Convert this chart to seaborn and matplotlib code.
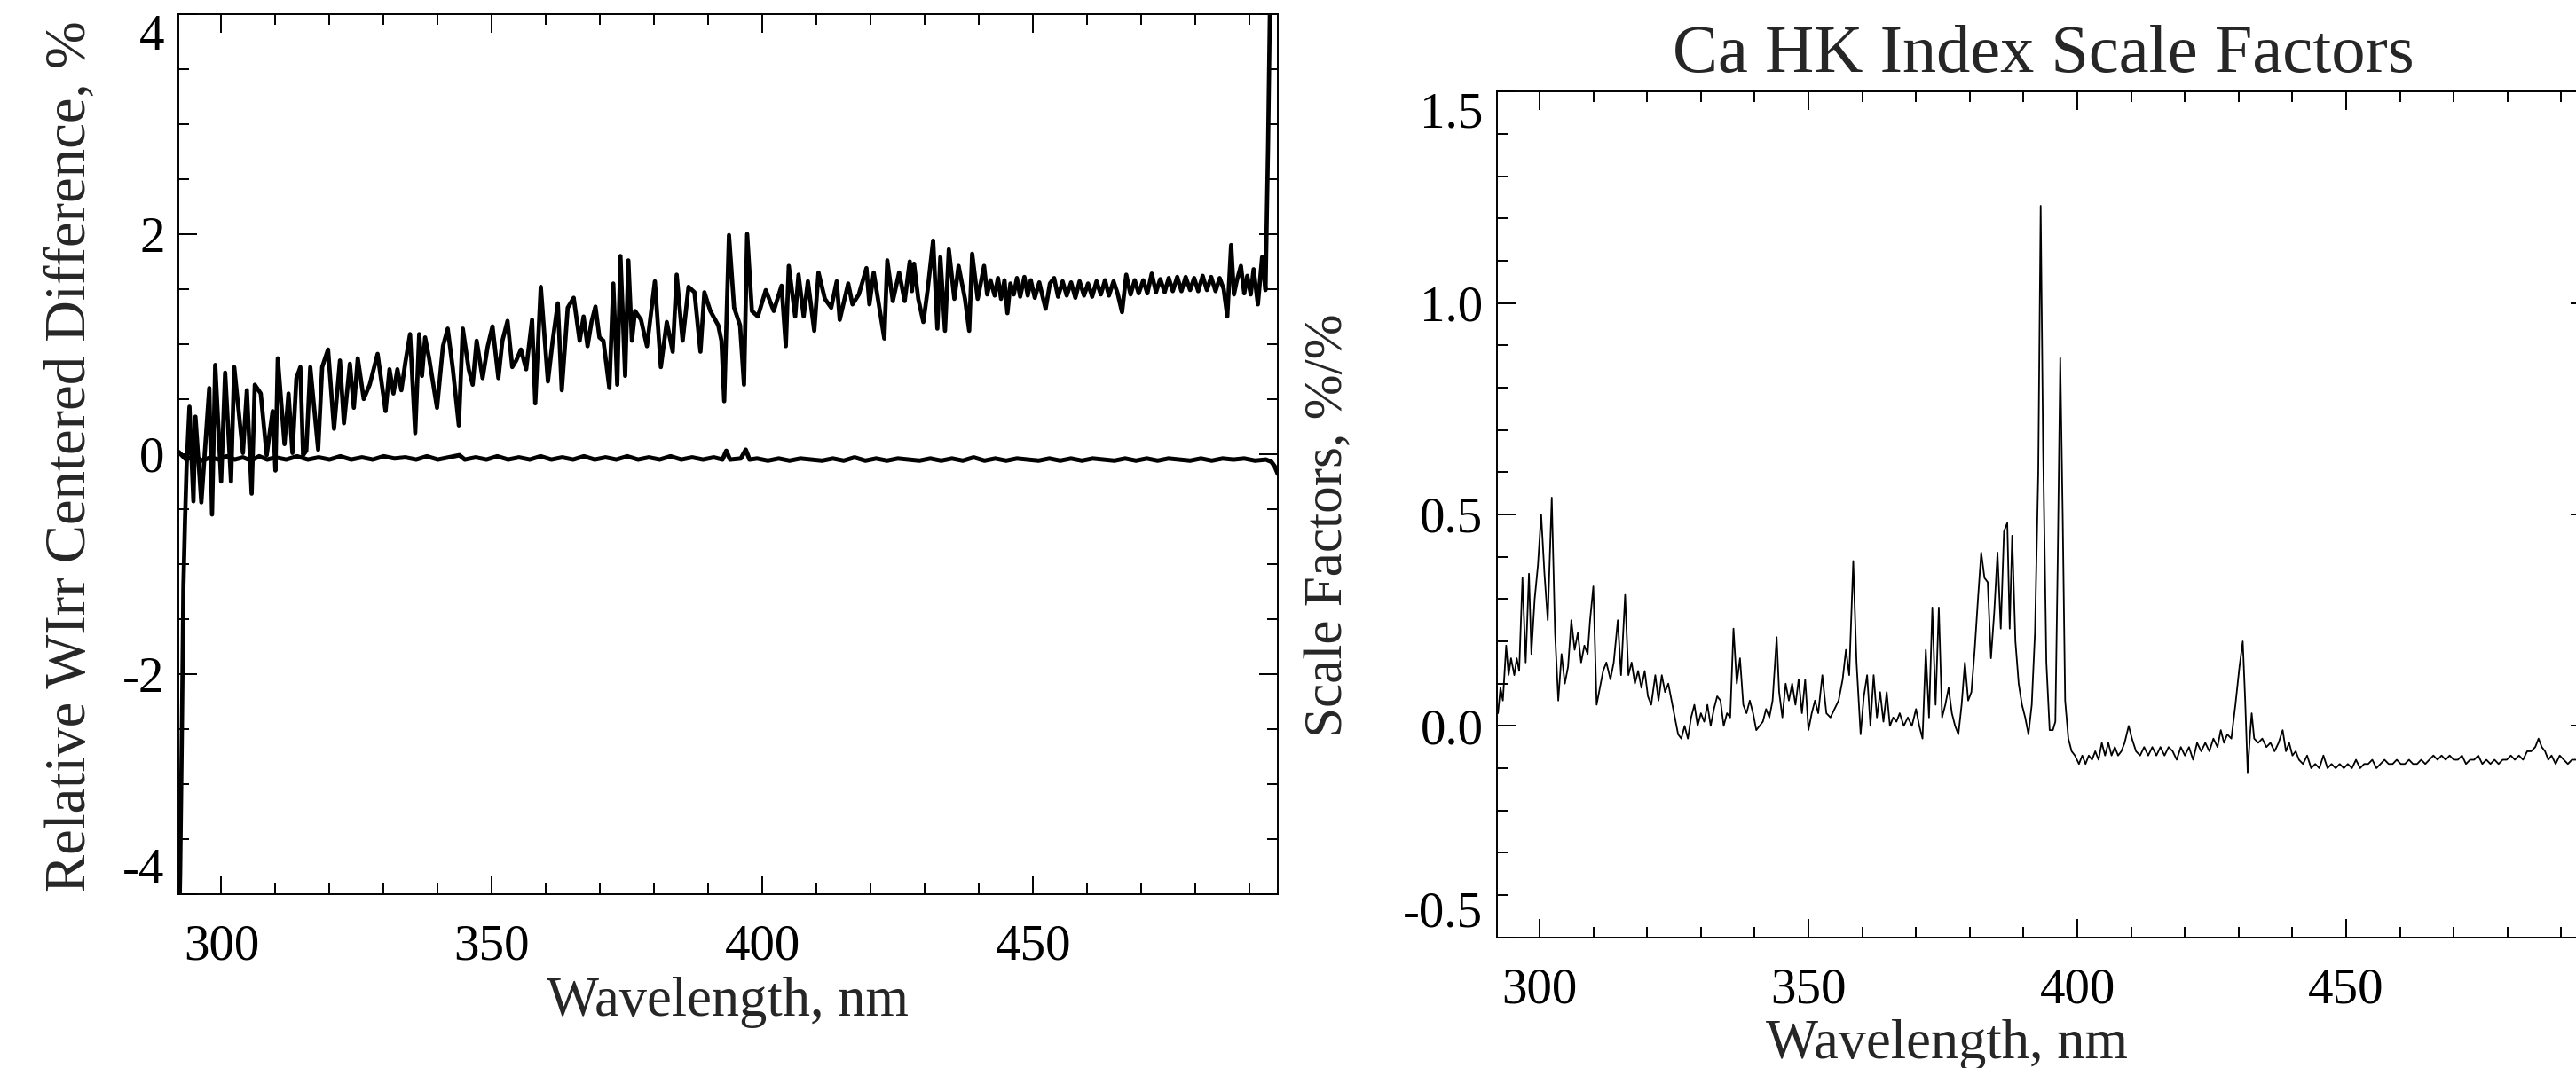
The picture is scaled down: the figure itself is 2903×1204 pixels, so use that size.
import matplotlib
matplotlib.use("Agg")
import matplotlib.pyplot as plt
from matplotlib.ticker import MultipleLocator, FormatStrFormatter
import seaborn as sns

# ---- left panel: relative WIrr centered difference (upper, trending curve)
wirr_wl = [292.1, 292.4, 292.7, 293.0, 293.3, 293.6, 293.9, 294.12, 294.85, 295.22,
           296.31, 297.78, 298.29, 298.88, 299.97, 300.71, 301.80, 302.39, 304.0, 304.73,
           305.61, 306.19, 307.29, 308.39, 309.49, 310.0, 310.44, 311.68, 312.42, 313.15,
           313.88, 314.61, 315.12, 315.71, 316.44, 317.90, 318.64, 319.73, 320.83, 321.93,
           322.66, 323.76, 324.49, 325.22, 326.32, 327.42, 328.88, 330.35, 331.08, 331.81,
           332.54, 333.27, 334.0, 334.88, 335.83, 336.57, 337.08, 337.66, 338.40, 339.86,
           340.96, 341.84, 342.79, 343.89, 344.62, 345.72, 346.45, 347.18, 348.28, 349.23,
           350.11, 351.20, 351.94, 352.89, 353.76, 354.50, 355.37, 356.33, 357.42, 358.01,
           359.03, 360.35, 361.23, 362.18, 362.91, 364.01, 365.11, 366.21, 366.94, 367.67,
           368.40, 369.13, 369.87, 370.60, 371.70, 372.43, 373.16, 373.75, 374.62, 375.21,
           375.87, 376.45, 377.55, 378.65, 380.11, 381.21, 382.31, 383.41, 384.14, 385.24,
           386.33, 387.43, 388.53, 389.26, 390.36, 391.82, 392.41, 392.92, 393.80, 394.75,
           395.85, 396.58, 397.16, 398.04, 399.14, 400.60, 402.07, 403.52, 404.30, 404.85,
           406.03, 406.65, 407.60, 408.38, 409.56, 410.34, 411.52, 412.69, 413.71, 414.26,
           415.83, 416.62, 417.79, 419.20, 419.75, 420.54, 421.32, 422.50, 423.05, 424.07,
           425.24, 426.26, 427.20, 427.60, 427.99, 428.77, 429.71, 430.50, 431.52, 432.30,
           432.85, 433.71, 434.42, 435.44, 436.22, 437.40, 438.18, 438.73, 439.75, 440.93,
           441.5, 442.11, 442.89, 443.5, 444.07, 444.7, 445.24, 445.8, 446.42, 447.0,
           447.60, 448.38, 449.0, 449.56, 450.3, 451.13, 451.7, 452.30, 453.1, 453.87,
           454.6, 455.44, 456.2, 457.01, 457.8, 458.58, 459.4, 460.14, 460.9, 461.71,
           462.5, 463.28, 464.0, 464.85, 465.6, 466.42, 467.20, 468.0, 468.77, 469.5,
           470.34, 471.10, 471.91, 472.7, 473.48, 474.3, 475.05, 475.8, 476.62, 477.4,
           478.18, 479.0, 479.75, 480.5, 481.32, 482.1, 482.89, 483.7, 484.46, 485.2,
           485.87, 486.58, 487.1, 487.60, 488.38, 489.0, 489.56, 490.2, 490.73, 491.52,
           492.30, 492.93, 493.40, 493.90]
wirr_diff = [-4.6, -3.8, -2.6, -1.2, -0.6, -0.1, 0.2, 0.43, -0.43, 0.34,
             -0.44, 0.60, -0.55, 0.81, -0.25, 0.74, -0.25, 0.79, 0.01, 0.58,
             -0.36, 0.63, 0.55, -0.01, 0.39, -0.15, 0.87, 0.09, 0.55, 0.01,
             0.69, 0.79, -0.01, 0.03, 0.79, 0.04, 0.79, 0.95, 0.23, 0.85,
             0.28, 0.82, 0.42, 0.87, 0.50, 0.63, 0.91, 0.39, 0.77, 0.55,
             0.77, 0.58, 0.83, 1.09, 0.19, 1.09, 0.71, 1.06, 0.87, 0.42,
             0.98, 1.14, 0.77, 0.26, 1.14, 0.77, 0.63, 1.03, 0.69, 0.98,
             1.16, 0.69, 1.03, 1.21, 0.79, 0.85, 0.95, 0.77, 1.22, 0.46,
             1.52, 0.66, 1.03, 1.37, 0.58, 1.33, 1.42, 1.03, 1.25, 0.98,
             1.20, 1.34, 1.06, 1.03, 0.60, 1.55, 0.63, 1.80, 0.71, 1.76,
             1.03, 1.30, 1.22, 0.98, 1.57, 0.79, 1.20, 0.93, 1.63, 1.03,
             1.52, 1.47, 0.93, 1.47, 1.30, 1.17, 1.03, 0.48, 1.99, 1.33,
             1.17, 0.63, 2.00, 1.30, 1.25, 1.49, 1.30, 1.53, 0.98, 1.71,
             1.25, 1.63, 1.25, 1.57, 1.12, 1.65, 1.41, 1.33, 1.57, 1.22,
             1.55, 1.36, 1.45, 1.69, 1.36, 1.65, 1.41, 1.05, 1.76, 1.39,
             1.65, 1.39, 1.75, 1.48, 1.73, 1.41, 1.20, 1.49, 1.94, 1.14,
             1.79, 1.12, 1.86, 1.41, 1.71, 1.41, 1.12, 1.82, 1.41, 1.71,
             1.45, 1.58, 1.44, 1.60, 1.41, 1.58, 1.28, 1.55, 1.45, 1.60,
             1.43, 1.61, 1.44, 1.58, 1.42, 1.56, 1.44, 1.32, 1.55, 1.60,
             1.43, 1.57, 1.44, 1.56, 1.42, 1.57, 1.44, 1.55, 1.43, 1.57,
             1.45, 1.58, 1.44, 1.57, 1.46, 1.29, 1.63, 1.45, 1.58, 1.46,
             1.58, 1.46, 1.64, 1.47, 1.59, 1.47, 1.60, 1.48, 1.61, 1.48,
             1.61, 1.49, 1.60, 1.48, 1.62, 1.49, 1.61, 1.48, 1.60, 1.50,
             1.25, 1.90, 1.45, 1.57, 1.71, 1.46, 1.62, 1.45, 1.68, 1.36,
             1.79, 1.49, 2.80, 4.60]

# ---- left panel: near-zero curve
base_wl = [292.1, 293.5, 295.0, 296.5, 298.0, 299.5, 301.0, 302.5, 304.0, 305.5,
           307.0, 308.5, 310.0, 312.0, 314.0, 316.0, 318.0, 320.0, 322.0, 324.0,
           326.0, 328.0, 330.0, 332.0, 334.0, 336.0, 338.0, 340.0, 342.0, 344.0,
           345.0, 347.0, 349.0, 351.0, 353.0, 355.0, 357.0, 359.0, 361.0, 363.0,
           365.0, 367.0, 369.0, 371.0, 373.0, 375.0, 377.0, 379.0, 381.0, 383.0,
           385.0, 387.0, 389.0, 391.0, 392.6, 393.3, 394.0, 396.0, 396.9, 397.6,
           399.0, 401.0, 403.0, 405.0, 407.0, 409.0, 411.0, 413.0, 415.0, 417.0,
           419.0, 421.0, 423.0, 425.0, 427.0, 429.0, 431.0, 433.0, 435.0, 437.0,
           439.0, 441.0, 443.0, 445.0, 447.0, 449.0, 451.0, 453.0, 455.0, 457.0,
           459.0, 461.0, 463.0, 465.0, 467.0, 469.0, 471.0, 473.0, 475.0, 477.0,
           479.0, 481.0, 483.0, 485.0, 487.0, 489.0, 491.0, 493.0, 494.0, 494.6,
           495.2]
base_diff = [0.02, -0.05, -0.02, -0.06, -0.03, -0.05, -0.02, -0.05, -0.03, -0.06,
             -0.02, -0.05, -0.03, -0.05, -0.02, -0.05, -0.03, -0.05, -0.02, -0.05,
             -0.03, -0.05, -0.02, -0.04, -0.03, -0.05, -0.02, -0.05, -0.03, -0.01,
             -0.05, -0.03, -0.05, -0.02, -0.05, -0.03, -0.05, -0.02, -0.05, -0.03,
             -0.05, -0.02, -0.05, -0.03, -0.05, -0.02, -0.05, -0.03, -0.05, -0.02,
             -0.05, -0.03, -0.05, -0.03, -0.05, 0.03, -0.05, -0.04, 0.04, -0.05,
             -0.04, -0.06, -0.04, -0.06, -0.04, -0.05, -0.06, -0.04, -0.06, -0.03,
             -0.06, -0.04, -0.06, -0.04, -0.05, -0.06, -0.04, -0.06, -0.04, -0.06,
             -0.03, -0.06, -0.04, -0.06, -0.04, -0.05, -0.06, -0.04, -0.06, -0.04,
             -0.06, -0.04, -0.05, -0.06, -0.04, -0.06, -0.04, -0.06, -0.04, -0.05,
             -0.06, -0.04, -0.06, -0.04, -0.05, -0.04, -0.06, -0.05, -0.07, -0.11,
             -0.18]

# ---- right panel: Ca HK index scale factors
hk_wl = [292.27, 292.73, 293.18, 293.79, 294.24, 294.70, 295.30, 295.76, 296.21, 296.82,
         297.42, 298.03, 298.48, 299.09, 299.70, 300.30, 300.91, 301.52, 302.27, 302.88,
         303.48, 304.09, 304.70, 305.30, 305.91, 306.52, 307.12, 307.73, 308.33, 308.94,
         309.39, 310.00, 310.61, 311.21, 311.82, 312.42, 313.18, 313.79, 314.55, 315.15,
         315.91, 316.52, 317.12, 317.73, 318.33, 318.94, 319.55, 320.15, 320.76, 321.52,
         322.12, 322.73, 323.33, 323.94, 324.55, 325.15, 325.76, 326.36, 326.97, 327.58,
         328.18, 328.79, 329.39, 330.00, 330.61, 331.21, 331.82, 332.42, 333.03, 333.64,
         334.24, 334.85, 335.45, 336.06, 336.67, 337.27, 337.88, 338.48, 339.09, 339.70,
         340.30, 340.91, 341.52, 342.12, 342.73, 343.33, 344.09, 344.55, 345.15, 345.76,
         346.36, 346.97, 347.58, 348.18, 348.79, 349.39, 350.00, 350.61, 351.21, 351.82,
         352.58, 353.33, 354.09, 354.85, 355.61, 356.36, 356.97, 357.58, 358.33, 358.94,
         359.70, 360.30, 360.91, 361.52, 362.12, 362.73, 363.33, 363.94, 364.55, 365.15,
         365.76, 366.36, 366.97, 367.73, 368.48, 369.24, 370.00, 370.61, 371.21, 371.82,
         372.42, 373.03, 373.64, 374.24, 374.85, 375.45, 376.06, 376.67, 377.27, 377.88,
         378.48, 379.09, 379.70, 380.30, 380.91, 381.52, 382.12, 382.73, 383.33, 383.94,
         384.55, 385.15, 385.76, 386.36, 386.97, 387.42, 387.88, 388.48, 389.09, 389.70,
         390.30, 390.91, 391.52, 392.12, 392.73, 393.18, 393.64, 394.24, 394.85, 395.45,
         395.91, 396.36, 396.82, 397.27, 397.73, 398.33, 398.94, 399.55, 400.30, 400.91,
         401.52, 402.12, 402.73, 403.33, 403.94, 404.55, 405.15, 405.76, 406.36, 406.97,
         407.58, 408.18, 408.79, 409.55, 410.15, 410.91, 411.67, 412.42, 413.18, 413.94,
         414.70, 415.45, 416.21, 416.97, 417.73, 418.48, 419.24, 420.00, 420.76, 421.52,
         422.27, 423.03, 423.79, 424.55, 425.30, 426.06, 426.67, 427.27, 427.88, 428.64,
         429.39, 430.15, 430.76, 431.21, 431.67, 432.12, 432.42, 432.88, 433.64, 434.39,
         435.15, 435.91, 436.67, 437.42, 438.18, 438.79, 439.39, 440.00, 440.61, 441.21,
         441.97, 442.73, 443.48, 444.24, 445.00, 445.76, 446.52, 447.27, 448.03, 448.79,
         449.55, 450.30, 451.06, 451.82, 452.58, 453.33, 454.09, 454.85, 455.61, 456.36,
         457.12, 457.88, 458.64, 459.39, 460.15, 460.91, 461.67, 462.42, 463.18, 463.94,
         464.70, 465.45, 466.21, 466.97, 467.73, 468.48, 469.24, 470.00, 470.76, 471.52,
         472.27, 473.03, 473.79, 474.55, 475.30, 476.06, 476.82, 477.58, 478.33, 479.09,
         479.85, 480.61, 481.36, 482.12, 482.88, 483.64, 484.39, 485.15, 485.76, 486.36,
         486.97, 487.58, 488.18, 488.94, 489.70, 490.45, 491.21, 491.97, 492.42, 493.50,
         495.00]
hk_scale = [0.03, 0.09, 0.06, 0.19, 0.12, 0.16, 0.12, 0.16, 0.13, 0.35,
            0.15, 0.36, 0.17, 0.30, 0.38, 0.50, 0.36, 0.25, 0.54, 0.22,
            0.06, 0.17, 0.10, 0.14, 0.25, 0.18, 0.22, 0.15, 0.19, 0.17,
            0.25, 0.33, 0.05, 0.09, 0.13, 0.15, 0.11, 0.15, 0.25, 0.12,
            0.31, 0.12, 0.15, 0.10, 0.13, 0.09, 0.13, 0.07, 0.05, 0.12,
            0.06, 0.12, 0.08, 0.10, 0.06, 0.02, -0.02, -0.03, 0.00, -0.03,
            0.02, 0.05, 0.00, 0.03, 0.01, 0.05, 0.00, 0.04, 0.07, 0.06,
            0.00, 0.03, 0.02, 0.23, 0.10, 0.16, 0.05, 0.03, 0.06, 0.03,
            -0.01, 0.00, 0.01, 0.04, 0.02, 0.06, 0.21, 0.08, 0.02, 0.10,
            0.06, 0.10, 0.05, 0.11, 0.03, 0.11, -0.01, 0.03, 0.06, 0.03,
            0.12, 0.03, 0.02, 0.04, 0.06, 0.11, 0.18, 0.12, 0.39, 0.15,
            -0.02, 0.07, 0.12, 0.00, 0.12, 0.02, 0.08, 0.01, 0.08, 0.00,
            0.02, 0.01, 0.03, 0.00, 0.02, 0.00, 0.04, 0.00, -0.03, 0.18,
            0.02, 0.28, 0.05, 0.28, 0.02, 0.05, 0.09, 0.03, 0.00, -0.02,
            0.05, 0.15, 0.06, 0.08, 0.18, 0.30, 0.41, 0.35, 0.34, 0.16,
            0.27, 0.41, 0.23, 0.46, 0.48, 0.23, 0.45, 0.20, 0.10, 0.05,
            0.02, -0.02, 0.05, 0.22, 0.60, 1.23, 0.65, 0.15, -0.01, -0.01,
            0.01, 0.40, 0.87, 0.50, 0.06, -0.03, -0.06, -0.07, -0.09, -0.07,
            -0.09, -0.07, -0.08, -0.06, -0.08, -0.04, -0.07, -0.04, -0.07, -0.05,
            -0.07, -0.06, -0.04, 0.00, -0.03, -0.06, -0.07, -0.05, -0.07, -0.05,
            -0.07, -0.05, -0.07, -0.05, -0.06, -0.08, -0.05, -0.07, -0.05, -0.08,
            -0.04, -0.06, -0.04, -0.06, -0.03, -0.05, -0.01, -0.04, -0.02, -0.03,
            0.05, 0.14, 0.20, 0.06, -0.11, -0.02, 0.03, -0.03, -0.04, -0.03,
            -0.05, -0.04, -0.06, -0.04, -0.01, -0.06, -0.04, -0.07, -0.06, -0.08,
            -0.09, -0.07, -0.10, -0.09, -0.10, -0.07, -0.10, -0.09, -0.10, -0.09,
            -0.10, -0.09, -0.10, -0.08, -0.10, -0.09, -0.09, -0.08, -0.10, -0.09,
            -0.08, -0.09, -0.09, -0.08, -0.09, -0.09, -0.08, -0.09, -0.09, -0.08,
            -0.09, -0.08, -0.07, -0.08, -0.07, -0.08, -0.07, -0.08, -0.08, -0.07,
            -0.09, -0.08, -0.08, -0.07, -0.09, -0.08, -0.09, -0.08, -0.09, -0.08,
            -0.08, -0.07, -0.08, -0.07, -0.08, -0.06, -0.06, -0.05, -0.03, -0.05,
            -0.06, -0.08, -0.07, -0.09, -0.07, -0.08, -0.09, -0.08, -0.08, -0.08,
            -0.07]

sns.set_style("ticks")
plt.rcParams["font.family"] = ["Liberation Serif", "DejaVu Serif"]
plt.rcParams["axes.unicode_minus"] = False

W, H = 2903, 1204
fig = plt.figure(figsize=(W / 100, H / 100), dpi=100)
ax1 = fig.add_axes([201 / W, 1 - 1008 / H, 1239 / W, (1008 - 15.7) / H])
ax2 = fig.add_axes([1686.7 / W, 1 - 1056.7 / H, (2918 - 1686.7) / W, (1056.7 - 103.3) / H])

sns.lineplot(x=base_wl, y=base_diff, ax=ax1, color="black", linewidth=3.6,
             estimator=None, sort=False)
sns.lineplot(x=wirr_wl, y=wirr_diff, ax=ax1, color="black", linewidth=3.4,
             estimator=None, sort=False)
sns.lineplot(x=hk_wl, y=hk_scale, ax=ax2, color="black", linewidth=1.3,
             estimator=None, sort=False)

ax1.set_xlim(292.07, 495.2)
ax1.set_ylim(-4, 4)
ax1.set_yticks([-4, -2, 0, 2, 4])
ax1.yaxis.set_minor_locator(MultipleLocator(0.5))

ax2.set_xlim(292.03, 495.2)
ax2.set_ylim(-0.5, 1.5)
ax2.set_yticks([-0.5, 0.0, 0.5, 1.0, 1.5])
ax2.yaxis.set_major_formatter(FormatStrFormatter("%.1f"))
ax2.yaxis.set_minor_locator(MultipleLocator(0.1))

for ax in (ax1, ax2):
    ax.set_xticks([300, 350, 400, 450])
    ax.xaxis.set_minor_locator(MultipleLocator(10))
    ax.tick_params(which="both", direction="in", top=True, right=True,
                   width=1.4, color="black", labelcolor="black")
    ax.tick_params(which="major", length=15)
    ax.tick_params(which="minor", length=8.5)
    ax.tick_params(axis="x", which="major", pad=24, labelsize=41)
    ax.tick_params(axis="y", which="major", pad=11, labelsize=41)
    for sp in ax.spines.values():
        sp.set_linewidth(1.4)
        sp.set_color("black")
    labs = ax.get_yticklabels()
    labs[0].set_va("bottom")
    labs[-1].set_va("top")

ax1.set_xlabel("Wavelength, nm", fontsize=45)
ax1.xaxis.set_label_coords(0.5, -0.094)
ax1.set_ylabel("Relative WIrr Centered Difference, %", fontsize=46.5)
ax1.yaxis.label.set_va("center")
ax1.yaxis.set_label_coords(-0.097, 0.497)

ax2.set_title("Ca HK Index Scale Factors", fontsize=55, pad=16)
ax2.set_xlabel("Wavelength, nm", fontsize=45)
ax2.xaxis.set_label_coords(0.412, -0.097)
ax2.set_ylabel("Scale Factors, %/%", fontsize=44)
ax2.yaxis.label.set_va("center")
ax2.yaxis.set_label_coords(-0.154, 0.487)

fig.savefig("out.png", dpi=100)
